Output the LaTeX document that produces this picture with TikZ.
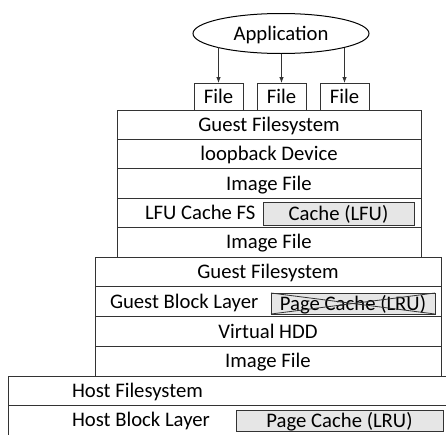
\documentclass[tikz,border=0pt]{standalone}
\usepackage{fontspec}
\setmainfont{Carlito}
\usetikzlibrary{shapes.geometric,arrows.meta}
\definecolor{linec}{HTML}{333333}
\definecolor{cachefill}{HTML}{E6E6E6}

\begin{document}
\begin{tikzpicture}[x=1pt,y=-1pt,
  every node/.style={inner sep=0pt, outer sep=0pt,
    font=\fontsize{20.7}{24}\selectfont, text=black,
    text height=13.3pt, text depth=0pt},
  layer/.style={draw=linec, line width=1pt, rectangle, anchor=north west},
  cachebox/.style={layer, fill=cachefill},
  lbl/.style={anchor=west},
  arr/.style={draw=linec, line width=0.8pt, -{Latex[length=6pt,width=4.5pt]}}
]
\clip (0,0) rectangle (446,434);

% application and its files
\node[ellipse, draw=black, line width=1pt, minimum width=176pt, minimum height=40pt]
  (app) at (281,33.5) {Application};
\node[layer, minimum width=49pt, minimum height=27pt] (f1) at (194,83) {File};
\node[layer, minimum width=49pt, minimum height=27pt] (f2) at (257,83) {File};
\node[layer, minimum width=49pt, minimum height=27pt] (f3) at (320,83) {File};
\draw[arr] (app.192.7 -| f1.north) -- (f1.north);
\draw[arr] (app.south -| f2.north) -- (f2.north);
\draw[arr] (app.347.7 -| f3.north) -- (f3.north);

% nested guest stack
\begin{scope}[every node/.append style={minimum width=304pt, minimum height=29.4pt}]
  \node[layer] (gfsA) at (117,110)   {Guest Filesystem};
  \node[layer] (loop) at (117,139.4) {loopback Device};
  \node[layer] (imgA) at (117,168.8) {Image File};
  \node[layer] (lfu)  at (117,198.2) {};
  \node[layer] (imgB) at (117,227.6) {Image File};
\end{scope}
\node[lbl] (lfulbl) at (145,212.9) {LFU Cache FS};
\node[cachebox, minimum width=151pt, minimum height=23pt] (lfuc) at (263,202) {Cache (LFU)};

% guest stack
\begin{scope}[every node/.append style={minimum width=346pt, minimum height=29.75pt}]
  \node[layer] (gfsB) at (95,257)    {Guest Filesystem};
  \node[layer] (gbl)  at (95,286.75) {};
  \node[layer] (vhdd) at (95,316.5)  {Virtual HDD};
  \node[layer] (imgC) at (95,346.25) {Image File};
\end{scope}
\node[lbl] (gbllbl) at (110,301.6) {Guest Block Layer};
\node[cachebox, minimum width=164pt, minimum height=21pt] (gpc) at (271,293) {Page Cache (LRU)};
\draw[draw=linec, line width=0.8pt] (gpc.north west) -- (gpc.south east);
\draw[draw=linec, line width=0.8pt] (gpc.south west) -- (gpc.north east);

% host stack
\node[layer, minimum width=450pt, minimum height=29pt] (hfs) at (8,376) {};
\node[layer, minimum width=450pt, minimum height=31pt] (hbl) at (8,405) {};
\node[lbl] (hfslbl) at (72,390.5) {Host Filesystem};
\node[lbl] (hbllbl) at (72,419.5) {Host Block Layer};
\node[cachebox, minimum width=207pt, minimum height=21pt] (hpc) at (236,410) {Page Cache (LRU)};
\end{tikzpicture}
\end{document}
